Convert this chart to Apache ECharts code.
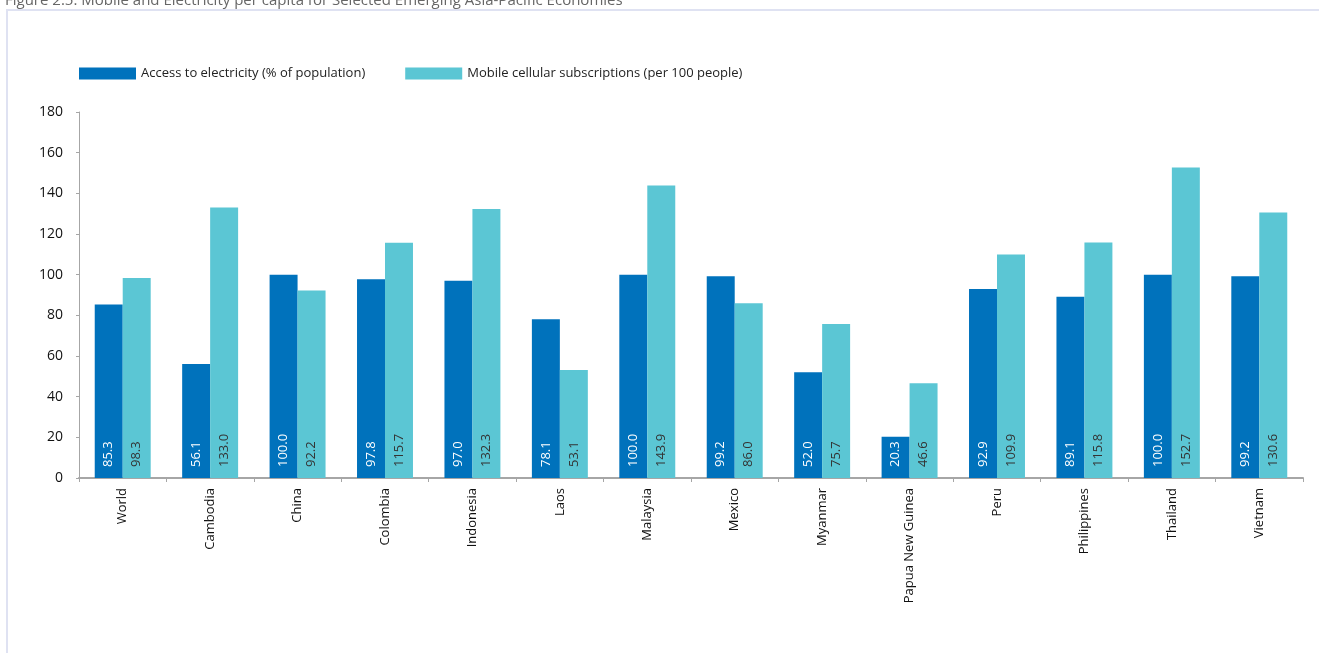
<!DOCTYPE html>
<html>
<head>
<meta charset="utf-8">
<script src="https://cdn.jsdelivr.net/npm/echarts@6/dist/echarts.min.js"></script>
<style>
  html, body { margin: 0; padding: 0; background: #fff; }
  #chart { width: 1319px; height: 653px; }
</style>
</head>
<body>
<div id="chart"></div>
<script>
// Economies shown along the category axis
const economies = ['World', 'Cambodia', 'China', 'Colombia', 'Indonesia', 'Laos', 'Malaysia',
  'Mexico', 'Myanmar', 'Papua New Guinea', 'Peru', 'Philippines', 'Thailand', 'Vietnam'];

// Access to electricity (% of population)
const electricity = [85.3, 56.1, 100.0, 97.8, 97.0, 78.1, 100.0, 99.2, 52.0, 20.3, 92.9, 89.1, 100.0, 99.2];

// Mobile cellular subscriptions (per 100 people)
const mobile = [98.3, 133.0, 92.2, 115.7, 132.3, 53.1, 143.9, 86.0, 75.7, 46.6, 109.9, 115.8, 152.7, 130.6];

const seriesNames = ['Access to electricity (% of population)', 'Mobile cellular subscriptions (per 100 people)'];
const titleText = 'Figure 2.5: Mobile and Electricity per capita for Selected Emerging Asia-Pacific Economies';

const FONT = '"Open Sans", "Noto Sans", sans-serif';
const DARK = '#0072bc';
const LIGHT = '#5bc6d4';

function valueLabel(color) {
  return {
    show: true,
    position: 'insideBottom',
    rotate: 90,
    align: 'left',
    verticalAlign: 'middle',
    distance: 11,
    color: color,
    fontFamily: FONT,
    fontSize: 13,
    formatter: p => p.value.toFixed(1)
  };
}

const chart = echarts.init(document.getElementById('chart'), null, { renderer: 'canvas' });
chart.setOption({
  backgroundColor: '#ffffff',
  animation: false,
  title: {
    text: titleText,
    left: 0,
    top: -12,
    textStyle: { fontFamily: FONT, fontSize: 15, fontWeight: 'normal', color: '#666' }
  },
  graphic: [{
    type: 'rect',
    shape: { x: 7, y: 10, width: 1400, height: 700 },
    style: { fill: 'none', stroke: '#dfe2f2', lineWidth: 2 },
    silent: true,
    z: -1
  }],
  legend: {
    left: 74,
    top: 62,
    itemWidth: 57,
    itemHeight: 12,
    itemGap: 40,
    icon: 'rect',
    textStyle: { fontFamily: FONT, fontSize: 13, color: '#222' },
    data: seriesNames
  },
  grid: { left: 79, right: 16, top: 112, bottom: 175 },
  xAxis: {
    type: 'category',
    data: economies,
    axisLine: { lineStyle: { color: '#a6a6a6', width: 2 } },
    axisTick: { show: true, length: 4, alignWithLabel: false, lineStyle: { color: '#a6a6a6' } },
    axisLabel: {
      rotate: 90,
      interval: 0,
      margin: 10,
      color: '#111',
      fontFamily: FONT,
      fontSize: 13
    }
  },
  yAxis: {
    type: 'value',
    min: 0,
    max: 180,
    interval: 20,
    axisLine: { show: true, lineStyle: { color: '#a6a6a6', width: 1 } },
    axisTick: { show: true, length: 3, lineStyle: { color: '#a6a6a6' } },
    splitLine: { show: false },
    axisLabel: { margin: 16, color: '#111', fontFamily: FONT, fontSize: 14 }
  },
  series: [
    {
      name: seriesNames[0],
      type: 'bar',
      data: electricity,
      barGap: '0%',
      barCategoryGap: '36%',
      itemStyle: { color: DARK },
      label: valueLabel('#ffffff')
    },
    {
      name: seriesNames[1],
      type: 'bar',
      data: mobile,
      barGap: '0%',
      barCategoryGap: '36%',
      itemStyle: { color: LIGHT },
      label: valueLabel('#333333')
    }
  ]
});
</script>
</body>
</html>
